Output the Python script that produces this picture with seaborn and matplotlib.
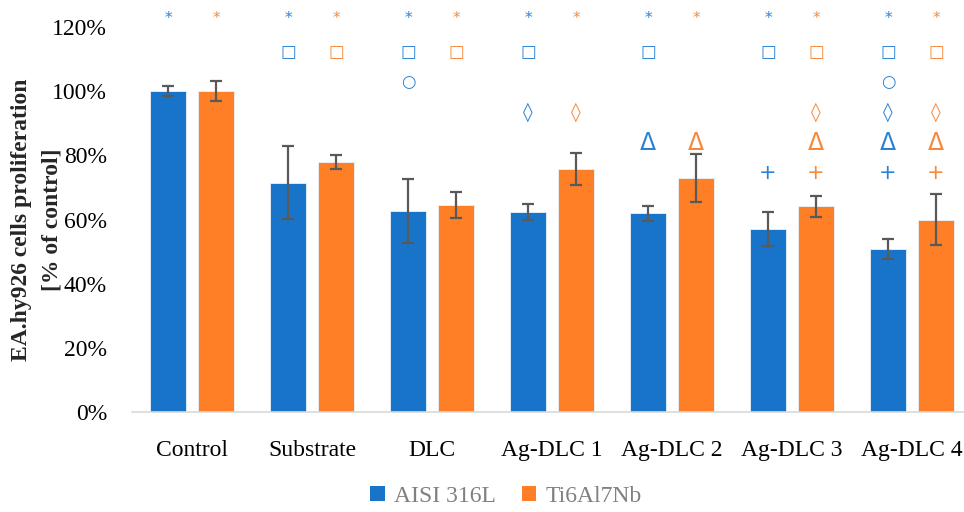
import matplotlib
matplotlib.use("Agg")
import matplotlib.pyplot as plt
import seaborn as sns
import pandas as pd
import numpy as np
from matplotlib.patches import Patch

categories = ["Control", "Substrate", "DLC", "Ag-DLC 1", "Ag-DLC 2", "Ag-DLC 3", "Ag-DLC 4"]
series = ["AISI 316L", "Ti6Al7Nb"]
aisi_vals = [100.0, 71.4, 62.7, 62.4, 61.9, 57.0, 50.8]
aisi_err = [1.6, 11.4, 10.0, 2.4, 2.3, 5.2, 3.1]
ti_vals = [100.0, 77.8, 64.5, 75.6, 72.9, 64.1, 60.0]
ti_err = [3.2, 2.2, 4.1, 5.0, 7.4, 3.3, 7.9]

# significance symbols per bar (top to bottom rows)
symbol_rows = ["*", "□", "○", "◊", "Δ", "+"]
row_levels = [122.6, 112.1, 102.8, 93.5, 83.8, 74.5]
aisi_syms = [["*"], ["*", "□"], ["*", "□", "○"], ["*", "□", "◊"], ["*", "□", "Δ"],
             ["*", "□", "+"], ["*", "□", "○", "◊", "Δ", "+"]]
ti_syms = [["*"], ["*", "□"], ["*", "□"], ["*", "◊"], ["*", "Δ"],
           ["*", "□", "◊", "Δ", "+"], ["*", "□", "◊", "Δ", "+"]]

ylabel_lines = ["EA.hy926 cells proliferation", "[% of control]"]

blue = "#1874C9"
orange = "#FF7F27"
blue_sym = "#2A82D6"
orange_sym = "#F7883A"

sns.set_style("white")
plt.rcParams["font.family"] = ["Liberation Serif", "DejaVu Serif"]

df = pd.DataFrame({
    "category": categories * 2,
    "series": [series[0]] * len(categories) + [series[1]] * len(categories),
    "value": aisi_vals + ti_vals,
})

fig = plt.figure(figsize=(9.64, 5.12), dpi=100)
ax = fig.add_axes([132 / 964, 100 / 512, 840 / 964, 385 / 512])

sns.barplot(data=df, x="category", y="value", hue="series", order=categories,
            hue_order=series, palette=[blue, orange], width=0.8, gap=0.23,
            errorbar=None, ax=ax, legend=False, saturation=1,
            edgecolor="#EAF2FB", linewidth=0.6)

n = len(categories)
patches = ax.patches
errs = [aisi_err, ti_err]
vals = [aisi_vals, ti_vals]
syms = [aisi_syms, ti_syms]
scolors = [blue_sym, orange_sym]
sym_size = {"*": 11, "□": 12, "○": 12, "◊": 14, "Δ": 17, "+": 15}
for s in range(2):
    for i in range(n):
        p = patches[s * n + i]
        xc = p.get_x() + p.get_width() / 2
        ax.errorbar(xc, vals[s][i], yerr=errs[s][i], color="#595959", lw=1.6,
                    capsize=4.5, capthick=1.6, zorder=5)
        for sym in syms[s][i]:
            yv = row_levels[symbol_rows.index(sym)]
            ax.text(xc, yv, sym, ha="center", va="center", fontsize=sym_size[sym],
                    color=scolors[s], clip_on=False, family=["DejaVu Sans"])

ax.set_ylim(0, 120)
ax.set_xlim(-0.5, n - 0.5)
ax.set_yticks(np.arange(0, 121, 20))
ax.set_yticklabels([f"{v}%" for v in range(0, 121, 20)])
ax.set_xlabel("")
ax.set_ylabel("")
ax.tick_params(axis="both", length=0, labelsize=17, colors="black")
ax.tick_params(axis="x", pad=20)
ax.tick_params(axis="y", pad=18)
for side in ["top", "right", "left"]:
    ax.spines[side].set_visible(False)
ax.spines["bottom"].set_color("#D9D9D9")
ax.spines["bottom"].set_linewidth(1.2)

for xpix, line in zip([22, 52], ylabel_lines):
    fig.text(xpix / 964, 1 - 220 / 512, line, rotation=90, ha="center", va="center",
             fontsize=17, fontweight="bold")

handles = [Patch(facecolor=blue, edgecolor="none"), Patch(facecolor=orange, edgecolor="none")]
leg = fig.legend(handles, series, loc="center", bbox_to_anchor=(506 / 964, 1 - 496 / 512),
                 ncol=2, frameon=False, fontsize=17, handlelength=0.6, handleheight=0.6,
                 handletextpad=0.4, columnspacing=1.1)
for t in leg.get_texts():
    t.set_color("#808080")

fig.savefig("out.png", dpi=100)
